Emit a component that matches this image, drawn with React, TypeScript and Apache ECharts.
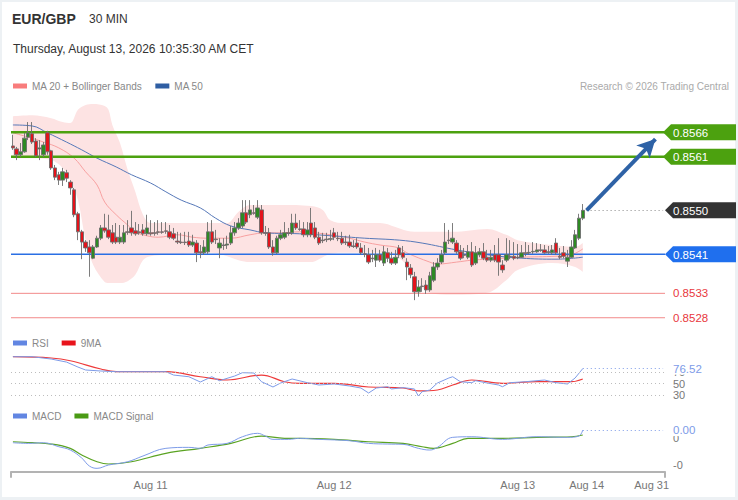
import React, { useEffect, useRef } from "react";
import * as echarts from "echarts";

const FONT = "'Liberation Sans', Arial, Helvetica, sans-serif";

// ---------- axis / tick data ----------
const SLOTS = 171;
const xTickIndex = [36, 84, 132, 150, 167];
const xTickLabel = ["Aug 11", "Aug 12", "Aug 13", "Aug 14", "Aug 31"];

// ---------- candles (30 min) ----------
const opens = [
  0.85632, 0.85626, 0.85614, 0.8562, 0.8565, 0.85657, 0.85642, 0.85626, 0.85614, 0.85659,
  0.85622, 0.85587, 0.85573, 0.85562, 0.85577, 0.85558, 0.85542, 0.85493, 0.85456, 0.85435,
  0.85425, 0.85402, 0.85425, 0.85443, 0.85464, 0.8546, 0.85454, 0.85445, 0.85435, 0.85435,
  0.85456, 0.85464, 0.85458, 0.85456, 0.8546, 0.85452, 0.85454, 0.85454, 0.85456, 0.85456,
  0.85458, 0.85456, 0.85452, 0.85437, 0.85435, 0.85435, 0.85437, 0.85429, 0.85433, 0.85415,
  0.85413, 0.85415, 0.85456, 0.85441, 0.85423, 0.85429, 0.85429, 0.85433, 0.85454, 0.85464,
  0.85468, 0.85495, 0.85491, 0.85495, 0.85486, 0.85501, 0.85454, 0.85454, 0.85425, 0.85413,
  0.85443, 0.85445, 0.85454, 0.85454, 0.85474, 0.85462, 0.85462, 0.8545, 0.85474, 0.85464,
  0.85445, 0.85439, 0.85441, 0.85441, 0.85454, 0.85443, 0.85443, 0.85435, 0.85435, 0.85427,
  0.85433, 0.85423, 0.85411, 0.85409, 0.85402, 0.85398, 0.85409, 0.85392, 0.85413, 0.85402,
  0.85392, 0.85423, 0.85413, 0.85394, 0.85382, 0.85364, 0.85333, 0.85345, 0.85347, 0.85337,
  0.85357, 0.85384, 0.85394, 0.85413, 0.85439, 0.85435, 0.85433, 0.85415, 0.85409, 0.85404,
  0.85415, 0.85392, 0.85409, 0.85415, 0.85404, 0.85398, 0.85409, 0.85409, 0.85388, 0.85398,
  0.85406, 0.85406, 0.85404, 0.85404, 0.85413, 0.85413, 0.85415, 0.85415, 0.85419, 0.85419,
  0.85415, 0.85413, 0.85433, 0.85406, 0.85413, 0.85396, 0.85404, 0.85423, 0.85443, 0.85484,
];
const closes = [
  0.85628, 0.85614, 0.8562, 0.85648, 0.85659, 0.8564, 0.85612, 0.85628, 0.85634, 0.8562,
  0.85587, 0.85568, 0.85562, 0.85579, 0.85566, 0.85546, 0.85491, 0.85456, 0.85435, 0.85423,
  0.85413, 0.85425, 0.85443, 0.85464, 0.85458, 0.85445, 0.85435, 0.85435, 0.85445, 0.85454,
  0.85455, 0.85454, 0.85452, 0.85454, 0.85452, 0.85464, 0.85452, 0.85453, 0.85455, 0.85455,
  0.85457, 0.85445, 0.85443, 0.85435, 0.85434, 0.85434, 0.85429, 0.85435, 0.85413, 0.85413,
  0.85425, 0.85456, 0.85435, 0.8544, 0.85433, 0.85428, 0.85431, 0.85454, 0.85464, 0.85474,
  0.85495, 0.85476, 0.85501, 0.85494, 0.85505, 0.85454, 0.85453, 0.85425, 0.85413, 0.85443,
  0.8545, 0.85454, 0.85453, 0.85474, 0.85464, 0.85461, 0.8545, 0.8546, 0.8545, 0.85445,
  0.85433, 0.85438, 0.8544, 0.85442, 0.85445, 0.85442, 0.85433, 0.85434, 0.85427, 0.85426,
  0.85425, 0.85413, 0.8541, 0.85394, 0.85401, 0.85409, 0.85398, 0.85415, 0.85402, 0.85392,
  0.85404, 0.85409, 0.85404, 0.85384, 0.85368, 0.85333, 0.85343, 0.85344, 0.85337, 0.85366,
  0.85384, 0.85392, 0.85409, 0.85435, 0.85438, 0.85443, 0.85415, 0.85402, 0.85408, 0.85415,
  0.85388, 0.85413, 0.85415, 0.85402, 0.85398, 0.85404, 0.85398, 0.85394, 0.85378, 0.85409,
  0.85405, 0.85402, 0.85403, 0.85413, 0.85412, 0.85414, 0.85416, 0.85419, 0.85418, 0.85413,
  0.85414, 0.85419, 0.85413, 0.85404, 0.85406, 0.85404, 0.85425, 0.8545, 0.85484, 0.855,
];
const highs = [
  0.85655, 0.8563, 0.85638, 0.85659, 0.85681, 0.85681, 0.85648, 0.85644, 0.8564, 0.85663,
  0.85624, 0.85593, 0.85579, 0.85587, 0.85583, 0.85562, 0.85546, 0.85497, 0.8546, 0.85439,
  0.85439, 0.85429, 0.85448, 0.8547, 0.85493, 0.85491, 0.8547, 0.85474, 0.8547, 0.8547,
  0.8548, 0.85499, 0.85476, 0.85472, 0.85472, 0.85491, 0.8548, 0.85476, 0.8548, 0.85476,
  0.85476, 0.8547, 0.85464, 0.85456, 0.85454, 0.85456, 0.85456, 0.8545, 0.85439, 0.85429,
  0.85439, 0.85476, 0.8548, 0.8546, 0.85443, 0.85443, 0.85448, 0.85468, 0.85476, 0.85484,
  0.85521, 0.85521, 0.85521, 0.85511, 0.85521, 0.85511, 0.85468, 0.85464, 0.85439, 0.85448,
  0.8546, 0.85476, 0.85464, 0.85493, 0.85493, 0.8548, 0.85476, 0.85476, 0.85505, 0.85476,
  0.85456, 0.85454, 0.85454, 0.8546, 0.85464, 0.85456, 0.85456, 0.85448, 0.8545, 0.85439,
  0.85443, 0.85433, 0.85429, 0.85423, 0.85419, 0.85423, 0.85419, 0.85427, 0.85423, 0.85415,
  0.85419, 0.85429, 0.85427, 0.85402, 0.8539, 0.85374, 0.85357, 0.85361, 0.85357, 0.85374,
  0.85394, 0.85402, 0.85419, 0.85474, 0.8546, 0.85474, 0.85439, 0.85429, 0.85423, 0.85429,
  0.85435, 0.85427, 0.85423, 0.85433, 0.85419, 0.85419, 0.85429, 0.85443, 0.85398, 0.85443,
  0.85439, 0.85435, 0.85431, 0.85429, 0.85435, 0.85429, 0.85435, 0.85433, 0.85431, 0.85429,
  0.85427, 0.85429, 0.85443, 0.85423, 0.85427, 0.85419, 0.85439, 0.8546, 0.85493, 0.85513,
];
const lows = [
  0.85624, 0.85603, 0.85609, 0.85618, 0.85644, 0.85636, 0.85609, 0.85603, 0.85609, 0.85614,
  0.85583, 0.85562, 0.85552, 0.8555, 0.85558, 0.85532, 0.85486, 0.85439, 0.854, 0.85415,
  0.85364, 0.854, 0.85423, 0.85439, 0.85454, 0.85441, 0.85431, 0.85431, 0.85431, 0.85431,
  0.8545, 0.85448, 0.85448, 0.8545, 0.85448, 0.85448, 0.85448, 0.85448, 0.8545, 0.85452,
  0.85452, 0.85441, 0.85439, 0.85431, 0.85431, 0.85429, 0.85425, 0.85425, 0.85394, 0.85402,
  0.85409, 0.85411, 0.85431, 0.85431, 0.85402, 0.85419, 0.85421, 0.85429, 0.85448, 0.8546,
  0.85464, 0.85472, 0.85484, 0.85491, 0.85482, 0.8545, 0.85448, 0.85421, 0.85407, 0.85411,
  0.85439, 0.85441, 0.85448, 0.8545, 0.8546, 0.85458, 0.85445, 0.85445, 0.85445, 0.85441,
  0.85429, 0.85433, 0.85435, 0.85437, 0.85439, 0.85437, 0.85429, 0.85429, 0.85423, 0.85423,
  0.85421, 0.85409, 0.85404, 0.8539, 0.85394, 0.85384, 0.85394, 0.85386, 0.85394, 0.85388,
  0.85388, 0.85402, 0.854, 0.85357, 0.85361, 0.85316, 0.85323, 0.85333, 0.85329, 0.85333,
  0.85353, 0.85378, 0.8539, 0.85409, 0.85431, 0.85431, 0.85411, 0.85398, 0.85402, 0.854,
  0.85384, 0.85388, 0.85404, 0.85398, 0.85394, 0.85394, 0.85394, 0.85366, 0.85372, 0.85394,
  0.854, 0.85398, 0.854, 0.85402, 0.85406, 0.85409, 0.85411, 0.85413, 0.85415, 0.85411,
  0.85411, 0.85409, 0.85409, 0.854, 0.85402, 0.85384, 0.85402, 0.85421, 0.85439, 0.8548,
];

// ---------- overlays (candle index, value) ----------
const ma20Idx = [0, 4, 8, 12, 16, 19, 22, 24, 27, 30, 32, 35, 38, 43, 47, 51, 57, 62, 66, 70, 75, 79, 83, 88, 92, 96, 101, 103, 109, 111, 116, 120, 124, 133, 142, 146, 149];
const ma20Val = [
  0.85659, 0.8565, 0.8564, 0.85628, 0.85607, 0.85579, 0.85552, 0.85517, 0.85491, 0.8547,
  0.85456, 0.85448, 0.85445, 0.8545, 0.85445, 0.85443, 0.85443, 0.8545, 0.85454, 0.85454,
  0.85456, 0.85454, 0.8545, 0.85443, 0.85435, 0.85429, 0.85423, 0.85413, 0.85394, 0.8539,
  0.85394, 0.85398, 0.854, 0.85404, 0.85406, 0.85409, 0.85421,
];
const ma50Idx = [0, 5, 9, 14, 18, 22, 27, 31, 36, 40, 44, 49, 53, 57, 62, 66, 75, 83, 92, 101, 107, 116, 124, 133, 142, 149];
const ma50Val = [
  0.85675, 0.85673, 0.85659, 0.8564, 0.85624, 0.85607, 0.85589, 0.85573, 0.85556, 0.85538,
  0.85521, 0.85505, 0.85484, 0.85468, 0.8546, 0.85454, 0.85452, 0.85448, 0.85443, 0.85439,
  0.85433, 0.85419, 0.85409, 0.85402, 0.854, 0.85404,
];
const bandIdx = [0, 5, 10, 13, 15, 17, 19, 21, 24, 25, 26, 28, 30, 32, 34, 36, 40, 46, 52, 56, 59, 62, 70, 78, 81, 83, 87, 96, 100, 103, 105, 109, 115, 124, 129, 132, 141, 147, 149];
const bandUpper = [
  0.85693, 0.85695, 0.85689, 0.85681, 0.85679, 0.85706, 0.85716, 0.85718, 0.85714, 0.85706,
  0.85675, 0.85638, 0.85583, 0.85538, 0.85491, 0.85474, 0.85474, 0.85474, 0.85474, 0.85474,
  0.85497, 0.85511, 0.85511, 0.85509, 0.85501, 0.8548, 0.85474, 0.85474, 0.85466, 0.85458,
  0.85456, 0.85456, 0.85456, 0.85462, 0.8545, 0.85439, 0.85429, 0.85425, 0.85433,
];
const bandLower = [
  0.85607, 0.85607, 0.85603, 0.85587, 0.85562, 0.85521, 0.85439, 0.85388, 0.85353, 0.85351,
  0.85351, 0.85351, 0.85355, 0.85368, 0.85398, 0.85406, 0.85409, 0.85411, 0.85413, 0.85406,
  0.85398, 0.85394, 0.85394, 0.85394, 0.85404, 0.85411, 0.85413, 0.85413, 0.85406, 0.85388,
  0.85363, 0.85331, 0.85327, 0.85331, 0.85357, 0.85378, 0.85392, 0.85384, 0.85374,
];
const rsiIdx = [0, 5, 10, 14, 17, 19, 23, 27, 40, 42, 46, 49, 52, 54, 58, 60, 63, 65, 68, 70, 73, 77, 80, 84, 88, 91, 93, 95, 98, 99, 102, 105, 106, 107, 109, 111, 114, 115, 117, 120, 121, 124, 127, 128, 130, 134, 139, 142, 145, 147, 149];
const rsiVal = [
  97.5, 97.5, 93.4, 88.1, 79.3, 74.1, 72.3, 71.1, 71.1, 65.2,
  62.2, 52.9, 62.2, 55.2, 63.5, 69.3, 68.8, 53.4, 44.1, 51.1,
  58.2, 51.7, 47.6, 49.4, 45.9, 42.3, 33.5, 42.3, 44.6, 40.6,
  43, 40.6, 28.2, 35.8, 38.8, 51.1, 60, 62.2, 53.4, 51.7,
  55.2, 51.1, 47.6, 44.6, 51.7, 53.4, 56.4, 51.7, 49.4, 60, 76.52,
];
const rsiMaIdx = [0, 10, 15, 23, 27, 40, 49, 56, 65, 71, 75, 84, 93, 102, 106, 111, 115, 120, 128, 137, 146, 149];
const rsiMaVal = [97.5, 95.2, 90.4, 75.8, 71.1, 71.1, 62.2, 56.4, 65.2, 53.4, 50.6, 50.6, 44.1, 42.3, 37.1, 38.8, 47.6, 56.4, 50.6, 53.4, 53.4, 58.2];
const macdIdx = [0, 4, 8, 12, 15, 18, 20, 22, 25, 30, 34, 40, 46, 49, 51, 56, 60, 64, 66, 68, 72, 75, 80, 88, 93, 98, 102, 106, 109, 111, 115, 120, 128, 137, 145, 148, 149];
const macdVal = [
  -0.000082, -0.000094, -0.000082, -0.000157, -0.000219, -0.000369, -0.000519, -0.000562, -0.0005, -0.000438,
  -0.000331, -0.000187, -0.000169, -0.000187, -0.000125, -0.000094, 0.00003, 0.000094, 0.000043, -0.000019,
  -0.000019, 0, -0.000019, -0.000045, -0.000094, -0.000107, -0.000112, -0.000187, -0.000219, -0.000169,
  0.000019, 0.00003, -0.000019, 0.00003, 0.000019, 0.000043, 0.000155,
];
const signalIdx = [0, 5, 10, 15, 18, 22, 25, 31, 40, 49, 57, 65, 71, 75, 84, 93, 102, 107, 110, 115, 119, 128, 137, 146, 149];
const signalVal = [
  -0.000064, -0.000082, -0.000107, -0.000187, -0.000313, -0.000438, -0.000481, -0.000438, -0.000281, -0.000187,
  -0.000094, 0.000043, 0, 0, -0.000019, -0.000064, -0.000094, -0.000157, -0.000187, -0.000094,
  0, 0, 0.000019, 0.00003, 0.000062,
];

// ---------- levels ----------
const resistances = [0.8566, 0.8561];
const pivotLevel = 0.8541;
const supports = [0.8533, 0.8528];
const lastPrice = 0.855;
const rsiLast = 76.52;
const macdLast = 0.000155;
const arrowFrom = [150, 0.855];
const arrowTo = [168, 0.85646];

const GREEN = "#4ca10f";
const PIVOT_BLUE = "#2a6fe4";
const SUPPORT_RED = "#f28a8a";

function pairs(idx: number[], val: number[]) {
  return idx.map((x, i) => [x, val[i]]);
}

function buildOption(): any {
  const cats = Array.from({ length: SLOTS }, (_, i) => String(i));
  const candles = opens.map((o, i) => [o, closes[i], lows[i], highs[i]]);
  const bandDiff = bandUpper.map((u, i) => u - bandLower[i]);
  const gridBase = { left: 11, width: 654, containLabel: false };
  const hiddenX = (g: number) => ({
    type: "category", gridIndex: g, data: cats, boundaryGap: true, show: false,
    axisLine: { onZero: false },
  });
  const legendText = { color: "#888", fontSize: 10, fontFamily: FONT };
  const legendBase = {
    left: 13, padding: 0, itemWidth: 14, itemHeight: 5, itemGap: 13, icon: "rect",
    selectedMode: false, textStyle: legendText,
  };
  const rightLabel = { color: "#777", fontSize: 11, margin: 8, fontFamily: FONT, hideOverlap: false };
  return {
    animation: false,
    backgroundColor: "#edf1f4",
    textStyle: { fontFamily: FONT },
    grid: [
      { ...gridBase, top: 103, height: 224.5 },
      { ...gridBase, top: 355.3, height: 56.7 },
      { ...gridBase, top: 425, height: 46.7 },
    ],
    legend: [
      {
        ...legendBase, top: 81,
        data: [
          { name: "MA 20 + Bollinger Bands", itemStyle: { color: "#f87c7c" } },
          { name: "MA 50", itemStyle: { color: "#2f5ea3" } },
        ],
      },
      {
        ...legendBase, top: 338,
        data: [
          { name: "RSI", itemStyle: { color: "#6286e2" } },
          { name: "9MA", itemStyle: { color: "#e8141c" } },
        ],
      },
      {
        ...legendBase, top: 411,
        data: [
          { name: "MACD", itemStyle: { color: "#6286e2" } },
          { name: "MACD Signal", itemStyle: { color: "#4a9a14" } },
        ],
      },
    ],
    xAxis: [
      hiddenX(0),
      hiddenX(1),
      {
        type: "category", gridIndex: 2, data: cats, boundaryGap: true,
        axisLine: { onZero: false, lineStyle: { color: "#b3b3b3", width: 2 } },
        axisTick: { show: false },
        axisLabel: {
          color: "#777", fontSize: 11, margin: 8, fontFamily: FONT,
          interval: (i: number) => xTickIndex.includes(i),
          formatter: (_v: string, i: number) => {
            const k = xTickIndex.indexOf(i);
            return k >= 0 ? xTickLabel[k] : "";
          },
        },
        splitLine: { show: false },
      },
    ],
    yAxis: [
      {
        type: "value", gridIndex: 0, min: 0.8526, max: 0.8572,
        axisLine: { show: false }, axisTick: { show: false }, axisLabel: { show: false }, splitLine: { show: false },
      },
      {
        type: "value", gridIndex: 1, min: 0, max: 100, position: "right",
        axisLine: { show: false }, axisTick: { show: false }, splitLine: { show: false },
        axisLabel: { ...rightLabel, customValues: [30, 50, 70] },
      },
      {
        type: "value", gridIndex: 2, min: -0.000625, max: 0.00025, position: "right",
        axisLine: { show: false }, axisTick: { show: false }, splitLine: { show: false },
        axisLabel: { ...rightLabel, customValues: [0, -0.0005], formatter: (v: number) => v.toFixed(0) },
      },
    ],
    series: [
      {
        type: "line", name: "bbLower", xAxisIndex: 0, yAxisIndex: 0, stack: "bb",
        data: pairs(bandIdx, bandLower), smooth: 0.35, symbol: "none",
        lineStyle: { width: 0, opacity: 0 }, silent: true, z: 1,
      },
      {
        type: "line", name: "bbFill", xAxisIndex: 0, yAxisIndex: 0, stack: "bb",
        data: pairs(bandIdx, bandDiff), smooth: 0.35, symbol: "none",
        lineStyle: { width: 0, opacity: 0 }, areaStyle: { color: "#fde3e3", opacity: 1 },
        silent: true, z: 1,
      },
      {
        type: "line", name: "MA 20 + Bollinger Bands", xAxisIndex: 0, yAxisIndex: 0,
        data: pairs(ma20Idx, ma20Val), smooth: 0.4, symbol: "none",
        lineStyle: { width: 1, color: "#f7a0a0" }, itemStyle: { color: "#f87c7c" }, silent: true, z: 3,
        markLine: {
          silent: true, animation: false, symbol: ["none", "none"], label: { show: false },
          data: [
            [
              { coord: [150, lastPrice], lineStyle: { color: "#888", width: 1, type: [1, 3] } },
              { coord: [170, lastPrice] },
            ],
          ],
        },
      },
      {
        type: "line", name: "MA 50", xAxisIndex: 0, yAxisIndex: 0,
        data: pairs(ma50Idx, ma50Val), smooth: 0.4, symbol: "none",
        lineStyle: { width: 1, color: "#5678b8" }, itemStyle: { color: "#2f5ea3" }, silent: true, z: 3,
        markLine: {
          silent: true, animation: false, label: { show: false },
          data: [
            [
              { coord: arrowFrom, symbol: "none" },
              { coord: arrowTo, symbol: "arrow", symbolSize: [14, 18] },
            ],
          ],
          lineStyle: { color: "#2e62a6", width: 4, type: "solid" },
        },
      },
      {
        type: "candlestick", name: "EUR/GBP", xAxisIndex: 0, yAxisIndex: 0, data: candles,
        barWidth: 4, z: 5,
        itemStyle: {
          color: "#2e8a23", color0: "#e3131b", borderColor: "#6e6e6e", borderColor0: "#6e6e6e", borderWidth: 0.9,
        },
      },
      {
        type: "line", name: "RSI", xAxisIndex: 1, yAxisIndex: 1, data: pairs(rsiIdx, rsiVal),
        smooth: false, symbol: "none", lineStyle: { width: 1, color: "#7d9be8" },
        itemStyle: { color: "#6286e2" }, silent: true, z: 3,
        markLine: {
          silent: true, animation: false, symbol: ["none", "none"], label: { show: false },
          data: [
            { yAxis: 70, lineStyle: { color: "#bdbdbd", width: 1, type: [1, 3] } },
            { yAxis: 50, lineStyle: { color: "#bdbdbd", width: 1, type: [1, 3] } },
            { yAxis: 30, lineStyle: { color: "#bdbdbd", width: 1, type: [1, 3] } },
            [
              { coord: [149, rsiLast], lineStyle: { color: "#7d9be8", width: 1, type: [1, 3] } },
              { coord: [170, rsiLast] },
            ],
          ],
        },
      },
      {
        type: "line", name: "9MA", xAxisIndex: 1, yAxisIndex: 1, data: pairs(rsiMaIdx, rsiMaVal),
        smooth: 0.4, symbol: "none", lineStyle: { width: 1.2, color: "#ee3a3a" },
        itemStyle: { color: "#e8141c" }, silent: true, z: 2,
      },
      {
        type: "line", name: "MACD", xAxisIndex: 2, yAxisIndex: 2, data: pairs(macdIdx, macdVal),
        smooth: 0.4, symbol: "none", lineStyle: { width: 1, color: "#7d9be8" },
        itemStyle: { color: "#6286e2" }, silent: true, z: 3,
        markLine: {
          silent: true, animation: false, symbol: ["none", "none"], label: { show: false },
          data: [
            [
              { coord: [149, macdLast], lineStyle: { color: "#7d9be8", width: 1, type: [1, 3] } },
              { coord: [170, macdLast] },
            ],
          ],
        },
      },
      {
        type: "line", name: "MACD Signal", xAxisIndex: 2, yAxisIndex: 2, data: pairs(signalIdx, signalVal),
        smooth: 0.4, symbol: "none", lineStyle: { width: 1.2, color: "#5aa322" },
        itemStyle: { color: "#4a9a14" }, silent: true, z: 2,
      },
    ],
  };
}

function txt(x: number, y: number, text: string, fill: string, font: string, align = "left", extra: any = {}) {
  return {
    type: "text", x, y, z: 50, silent: true,
    style: {
      text, fill, font, align, verticalAlign: "middle", textAlign: align, textVerticalAlign: "middle", ...extra,
    },
  };
}

function tag(y: number, color: string, label: string, tipX: number) {
  return [
    {
      type: "polygon", z: 40, silent: true,
      shape: { points: [[tipX, y], [tipX + 8, y - 8], [736, y - 8], [736, y + 8], [tipX + 8, y + 8]] },
      style: { fill: color },
    },
    txt(673, y + 0.5, label, "#fff", `11.5px ${FONT}`),
  ];
}

function level(y: number, color: string, width: number) {
  return {
    type: "line", z: 4, silent: true,
    shape: { x1: 11, y1: y, x2: 665, y2: y },
    style: { stroke: color, lineWidth: width },
  };
}

export default function App() {
  const ref = useRef<HTMLDivElement>(null);
  useEffect(() => {
    const el = ref.current!;
    const chart = echarts.init(el, null, { renderer: "svg" });
    chart.setOption(buildOption());
    const py = (axis: number, v: number) => chart.convertToPixel({ yAxisIndex: axis } as any, v) as number;
    const f4 = (v: number) => v.toFixed(4);
    const axisY = 471.7;
    const elements: any[] = [
      { type: "rect", z: -1, silent: true, shape: { x: 2, y: 2, width: 733, height: 495 }, style: { fill: "#fff" } },
      { type: "line", z: 10, silent: true, shape: { x1: 11, y1: axisY, x2: 11, y2: axisY + 6 }, style: { stroke: "#b3b3b3", lineWidth: 2 } },
      { type: "line", z: 10, silent: true, shape: { x1: 665, y1: axisY, x2: 665, y2: axisY + 6 }, style: { stroke: "#b3b3b3", lineWidth: 2 } },
      level(py(0, resistances[0]), GREEN, 2.5),
      level(py(0, resistances[1]), GREEN, 2.5),
      level(py(0, pivotLevel), PIVOT_BLUE, 1.5),
      level(py(0, supports[0]), SUPPORT_RED, 1),
      level(py(0, supports[1]), SUPPORT_RED, 1),
      txt(12, 19, "EUR/GBP", "#333", `bold 14px ${FONT}`),
      txt(89, 19, "30 MIN", "#333", `12px ${FONT}`),
      txt(13, 48.5, "Thursday, August 13, 2026 10:35:30 AM CET", "#333", `12px ${FONT}`),
      txt(729, 86, "Research © 2026 Trading Central", "#aaa", `10px ${FONT}`, "right"),
      ...tag(py(0, resistances[0]), GREEN, f4(resistances[0]), 663),
      ...tag(py(0, resistances[1]), GREEN, f4(resistances[1]), 663),
      ...tag(py(0, lastPrice), "#333333", f4(lastPrice), 665),
      ...tag(py(0, pivotLevel), "#1f6fee", f4(pivotLevel), 665),
      txt(673, py(0, supports[0]), f4(supports[0]), "#e8383d", `11.5px ${FONT}`),
      txt(673, py(0, supports[1]), f4(supports[1]), "#e8383d", `11.5px ${FONT}`),
      txt(673, py(1, rsiLast), rsiLast.toFixed(2), "#7d9be8", `11.5px ${FONT}`, "left", {
        backgroundColor: "#fff", padding: [0, 2, 0, 0],
      }),
      txt(673, py(2, macdLast), macdLast.toFixed(2), "#7d9be8", `11.5px ${FONT}`, "left", {
        backgroundColor: "#fff", padding: [0, 2, 0, 0],
      }),
    ];
    chart.setOption({ graphic: { elements } });
    return () => chart.dispose();
  }, []);
  return <div ref={ref} style={{ position: "absolute", left: 0, top: 0, width: 738, height: 500 }} />;
}
